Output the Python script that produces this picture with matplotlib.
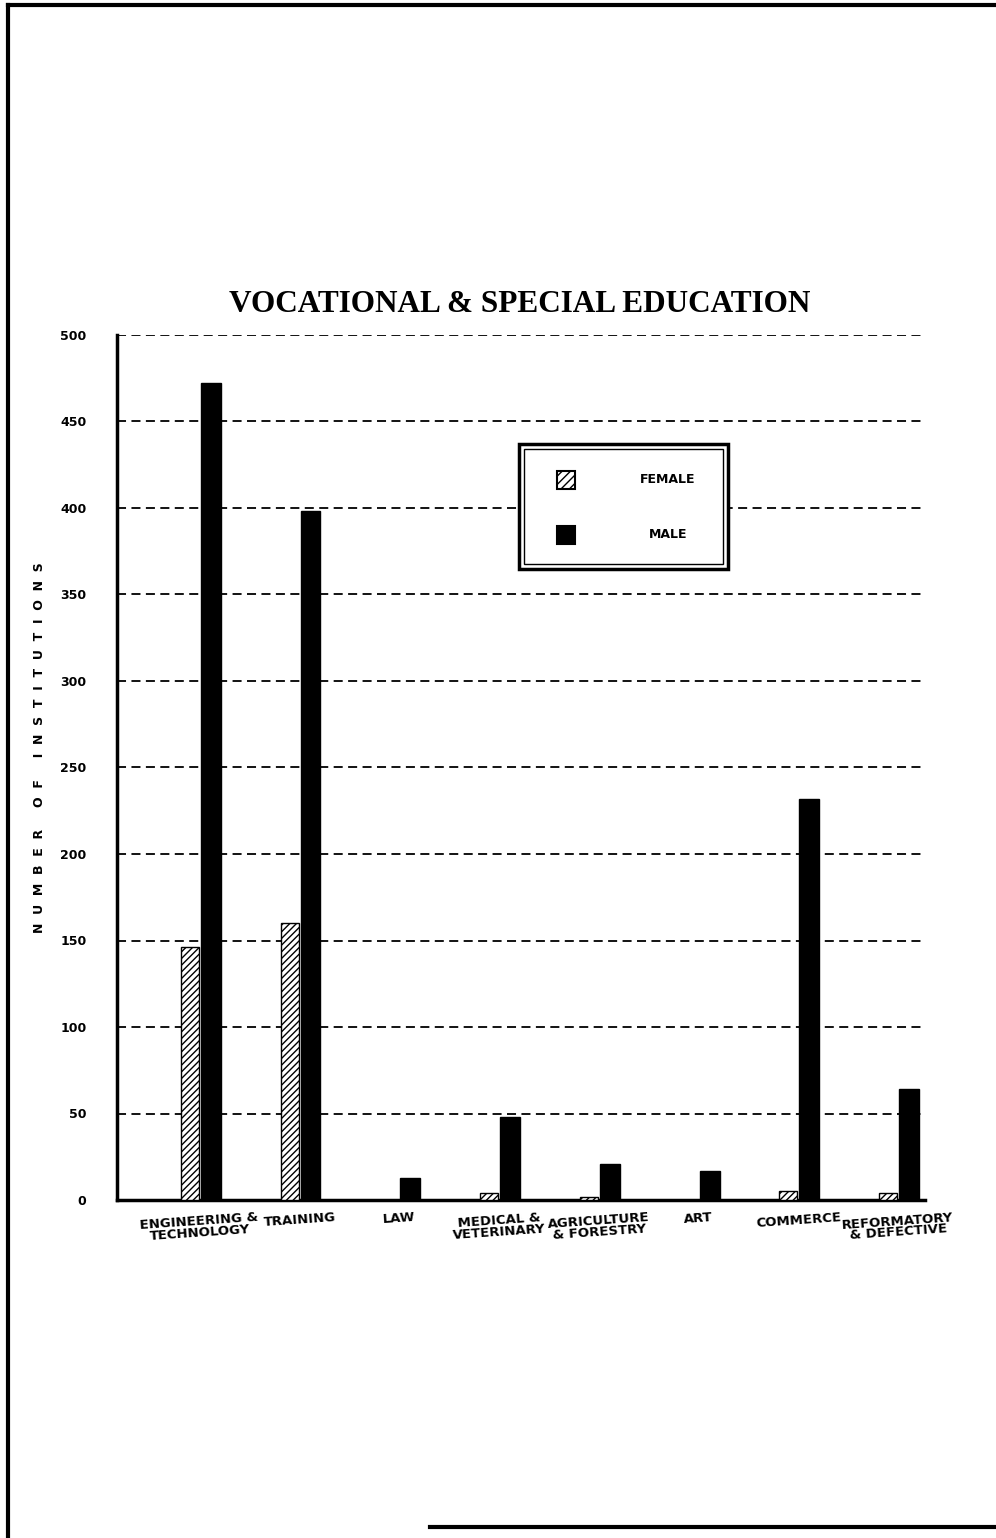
import matplotlib.pyplot as plt
from matplotlib.patches import Rectangle
from matplotlib.lines import Line2D
import numpy as np

# data
categories = ["ENGINEERING &\nTECHNOLOGY", "TRAINING", "LAW", "MEDICAL &\nVETERINARY",
              "AGRICULTURE\n& FORESTRY", "ART", "COMMERCE", "REFORMATORY\n& DEFECTIVE"]
female = [146, 160, 0, 4, 2, 0, 5, 4]
male = [472, 398, 13, 48, 21, 17, 232, 64]
yticks = [0, 50, 100, 150, 200, 250, 300, 350, 400, 450, 500]

narrow = ["Liberation Sans Narrow", "DejaVu Sans"]
plt.rcParams["hatch.linewidth"] = 1.0

fig = plt.figure(figsize=(9.96, 15.38), dpi=100)
ax = fig.add_axes([117 / 996, 1 - 1200 / 1538, 808 / 996, 865 / 1538])

x = np.arange(len(categories))
ax.bar(x - 0.1, female, width=0.18, color="white", edgecolor="black",
       hatch="/////", linewidth=1, zorder=3)
ax.bar(x + 0.11, male, width=0.2, color="black", edgecolor="black", zorder=3)

ax.set_xlim(-0.83, 7.27)
ax.set_ylim(0, 500)
ax.set_yticks(yticks)
ax.set_yticklabels([str(v) for v in yticks], family=narrow, fontweight="bold", fontsize=9)
ax.yaxis.grid(True, linestyle=(0, (5, 3)), color="black", linewidth=1.3, zorder=0)
ax.tick_params(axis="y", length=0, pad=22)

ax.set_xticks(x)
ax.set_xticklabels(categories, family=narrow, fontweight="bold", fontsize=9.5,
                   rotation=4, linespacing=0.8)
ax.tick_params(axis="x", length=0, pad=8)

for s in ["top", "right"]:
    ax.spines[s].set_visible(False)
ax.spines["left"].set_linewidth(2.5)
ax.spines["bottom"].set_linewidth(2.5)

ylab = "     ".join("  ".join(w) for w in ["NUMBER", "OF", "INSTITUTIONS"])
fig.text(40 / 996, 1 - 748 / 1538, ylab,
         family=narrow, fontweight="bold", fontsize=9, rotation=90,
         ha="center", va="center")

fig.text(520 / 996, 1 - 305 / 1538, "VOCATIONAL & SPECIAL EDUCATION",
         family=["Liberation Serif", "DejaVu Serif"], fontweight="bold",
         fontsize=22.5, ha="center", va="center")

# legend box drawn by hand
lx0, lx1 = (519 - 117) / 808, (728 - 117) / 808
ly1, ly0 = (1200 - 444) / 865, (1200 - 569) / 865
ax.add_patch(Rectangle((lx0, ly0), lx1 - lx0, ly1 - ly0, transform=ax.transAxes,
                       facecolor="white", edgecolor="black", linewidth=2.5, zorder=5))
d = 0.006
ax.add_patch(Rectangle((lx0 + d, ly0 + d), lx1 - lx0 - 2 * d, ly1 - ly0 - 2 * d,
                       transform=ax.transAxes, facecolor="none", edgecolor="black",
                       linewidth=1, zorder=6))
px = (557 - 117) / 808
pw = 18 / 808
ph = 18 / 865
for yy, lab, fc, h in [((1200 - 480) / 865, "FEMALE", "white", "////"),
                       ((1200 - 535) / 865, "MALE", "black", None)]:
    ax.add_patch(Rectangle((px, yy - ph / 2), pw, ph, transform=ax.transAxes,
                           facecolor=fc, edgecolor="black", hatch=h, linewidth=1.5, zorder=7))
    ax.text((668 - 117) / 808, yy, lab, transform=ax.transAxes, family=narrow,
            fontweight="bold", fontsize=9, ha="center", va="center", zorder=7)

# page edges of the scan
fig.add_artist(Line2D([8 / 996, 8 / 996], [0.0, 1 - 5 / 1538], color="black", linewidth=3))
fig.add_artist(Line2D([8 / 996, 1.0], [1 - 5 / 1538, 1 - 5 / 1538], color="black", linewidth=3))
fig.add_artist(Line2D([430 / 996, 1.0], [1 - 1527 / 1538, 1 - 1527 / 1538], color="black", linewidth=3))

plt.savefig("out.png", dpi=100)
